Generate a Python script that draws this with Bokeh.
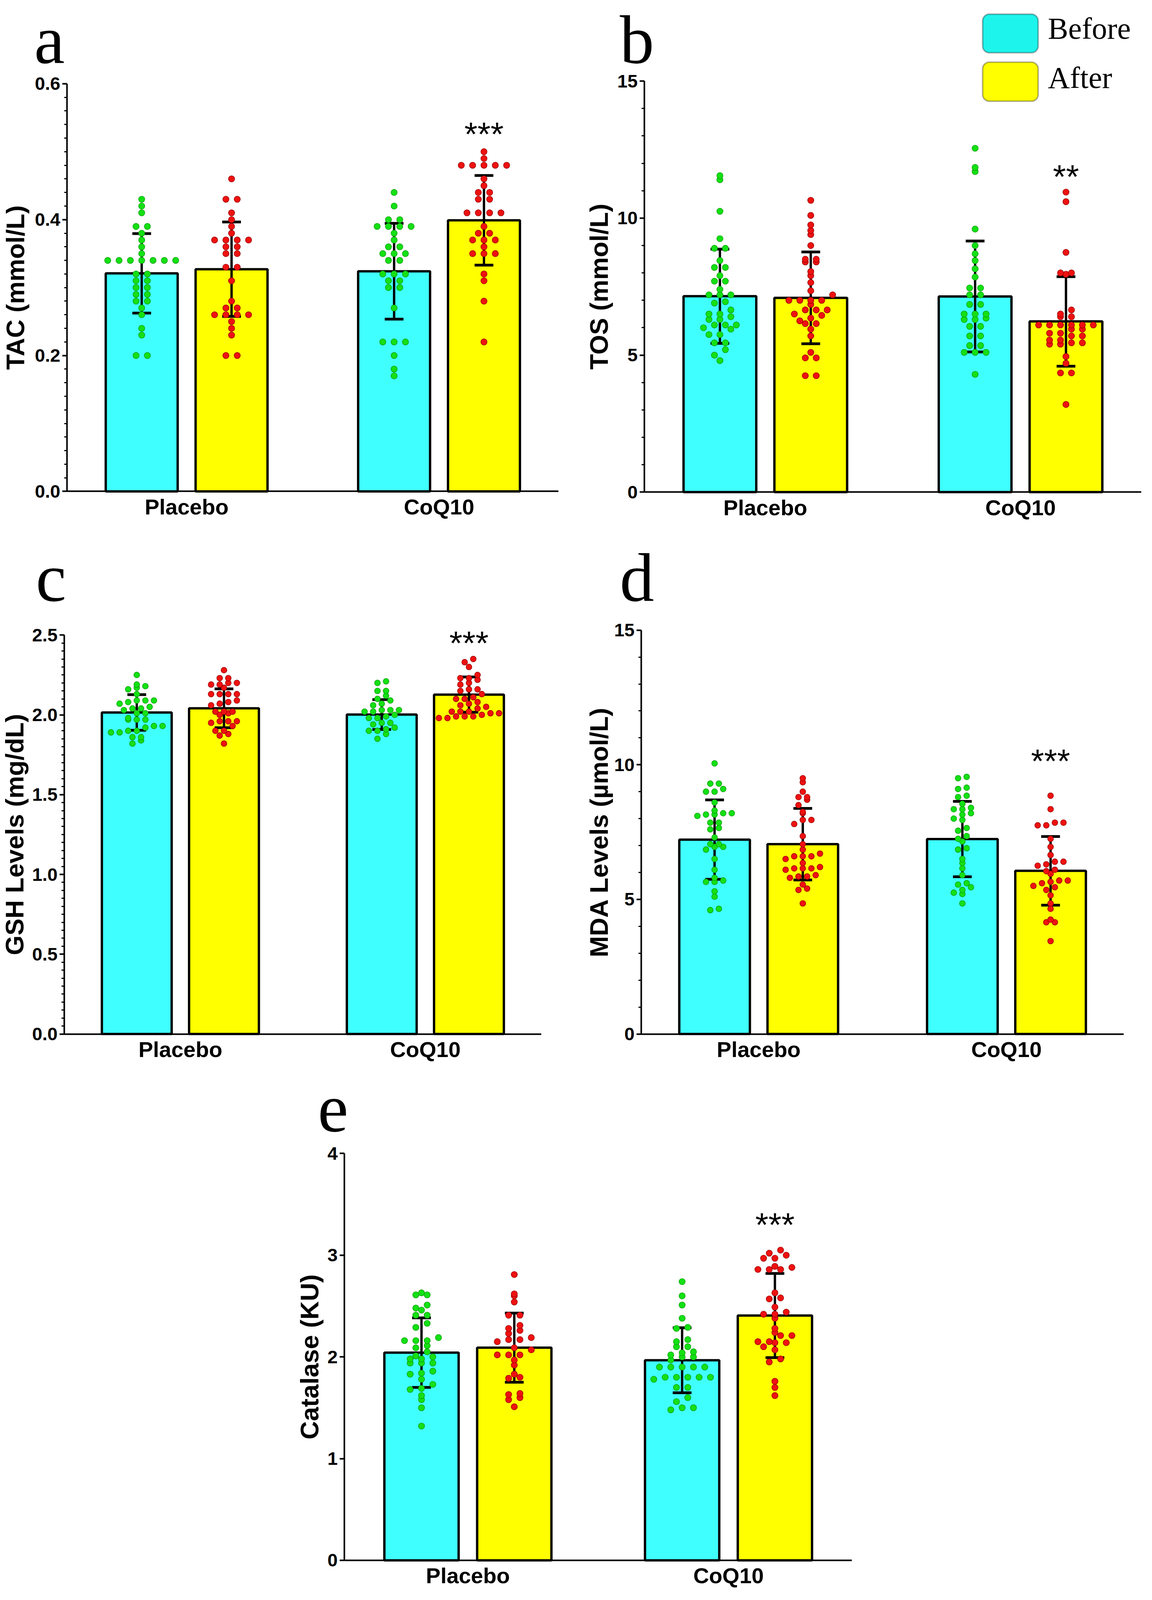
import numpy as np
from bokeh.plotting import figure
from bokeh.models import Range1d, FixedTicker, PrintfTickFormatter, BoxAnnotation
from bokeh.layouts import row, column
from bokeh.core.properties import value
from bokeh.embed import file_html
from bokeh.resources import INLINE

# ---------------- data ----------------
groups = ["Placebo", "CoQ10"]
conditions = ["Before", "After"]

# a: TAC (mmol/L)   order: Placebo-Before, Placebo-After, CoQ10-Before, CoQ10-After
tac_mean = [0.321, 0.327, 0.324, 0.399]
tac_sd = [0.0585, 0.0695, 0.0705, 0.066]
tac_placebo_before = [0.43, 0.42, 0.41, 0.39, 0.39, 0.38, 0.37, 0.36, 0.35, 0.34, 0.34, 0.34, 0.34, 0.34,
                      0.34, 0.34, 0.32, 0.32, 0.31, 0.31, 0.30, 0.30, 0.29, 0.29, 0.28, 0.28, 0.27, 0.26,
                      0.24, 0.23, 0.20, 0.20]
tac_placebo_after = [0.46, 0.43, 0.43, 0.41, 0.40, 0.39, 0.38, 0.37, 0.37, 0.37, 0.37, 0.36, 0.36, 0.35,
                     0.35, 0.33, 0.33, 0.31, 0.28, 0.27, 0.27, 0.26, 0.26, 0.26, 0.26, 0.25, 0.24, 0.23,
                     0.20, 0.20]
tac_coq_before = [0.44, 0.42, 0.40, 0.40, 0.39, 0.39, 0.39, 0.39, 0.38, 0.37, 0.36, 0.36, 0.35, 0.35, 0.35,
                  0.34, 0.34, 0.32, 0.32, 0.32, 0.31, 0.31, 0.30, 0.30, 0.27, 0.22, 0.22, 0.22, 0.20, 0.18,
                  0.17]
tac_coq_after = [0.50, 0.49, 0.48, 0.48, 0.48, 0.48, 0.48, 0.46, 0.45, 0.44, 0.44, 0.43, 0.43, 0.41, 0.41,
                 0.41, 0.41, 0.39, 0.38, 0.38, 0.37, 0.37, 0.37, 0.36, 0.35, 0.35, 0.35, 0.32, 0.31, 0.28,
                 0.22]

# b: TOS (mmol/L)
tos_mean = [7.15, 7.09, 7.14, 6.23]
tos_sd = [1.72, 1.675, 2.025, 1.635]
tos_placebo_before = [11.55, 11.4, 10.25, 9.25, 8.9, 8.9, 8.45, 8.2, 8.2, 7.9, 7.7, 7.7, 7.4, 7.2, 7.2, 7.2,
                      6.95, 6.9, 6.65, 6.5, 6.5, 6.4, 6.3, 6.3, 6.1, 6.1, 6.1, 6.0, 5.95, 5.75, 5.75, 5.45,
                      5.45, 5.2, 5.0, 4.8]
tos_placebo_after = [10.65, 10.1, 9.75, 9.55, 9.4, 9.0, 8.5, 8.5, 8.4, 8.4, 8.05, 7.9, 7.65, 7.35, 7.2, 7.0,
                     7.0, 7.0, 7.0, 6.85, 6.65, 6.65, 6.65, 6.5, 6.45, 6.35, 6.25, 6.15, 6.15, 5.95, 5.7,
                     5.1, 4.9, 4.9, 4.25, 4.25]
tos_coq_before = [12.55, 11.85, 11.7, 9.6, 9.0, 8.7, 8.45, 8.15, 7.85, 7.45, 7.45, 7.2, 7.2, 6.85, 6.85, 6.5,
                  6.5, 6.5, 6.35, 6.3, 6.3, 6.05, 6.05, 5.7, 5.7, 5.35, 5.35, 5.1, 5.1, 5.1, 4.3]
tos_coq_after = [10.95, 10.6, 8.75, 8.0, 8.0, 7.95, 6.65, 6.5, 6.4, 6.4, 6.1, 6.1, 6.1, 6.1, 6.1, 6.1, 5.95,
                 5.95, 5.8, 5.8, 5.7, 5.7, 5.55, 5.55, 5.45, 5.45, 5.4, 5.4, 4.95, 4.7, 4.35, 4.35, 3.2]

# c: GSH Levels (mg/dL)
gsh_mean = [2.015, 2.041, 2.002, 2.127]
gsh_sd = [0.1115, 0.122, 0.0935, 0.1105]
gsh_placebo_before = [2.25, 2.18, 2.17, 2.19, 2.16, 2.13, 2.07, 2.08, 2.09, 2.09, 2.09, 2.05, 2.04, 2.04,
                      2.03, 2.01, 2.01, 1.98, 1.97, 1.97, 1.97, 1.93, 1.92, 1.93, 1.89, 1.89, 1.90, 1.90,
                      1.86, 1.86, 1.84, 1.82]
gsh_placebo_after = [2.28, 2.23, 2.23, 2.20, 2.19, 2.19, 2.20, 2.17, 2.13, 2.13, 2.13, 2.13, 2.09, 2.08,
                     2.07, 2.06, 2.02, 2.02, 2.02, 2.01, 2.00, 1.96, 1.96, 1.96, 1.95, 1.93, 1.90, 1.90,
                     1.88, 1.87, 1.82]
gsh_coq_before = [2.21, 2.20, 2.15, 2.15, 2.12, 2.09, 2.10, 2.07, 2.06, 2.03, 2.03, 2.02, 2.03, 2.02, 2.00,
                  1.98, 1.99, 1.98, 1.95, 1.95, 1.94, 1.92, 1.91, 1.90, 1.90, 1.88, 1.85]
gsh_coq_after = [2.35, 2.33, 2.30, 2.25, 2.23, 2.22, 2.23, 2.20, 2.19, 2.16, 2.16, 2.15, 2.13, 2.11, 2.10,
                 2.10, 2.07, 2.08, 2.06, 2.05, 2.04, 2.02, 2.02, 2.01, 2.01, 2.02, 1.98, 1.99, 1.99, 1.99,
                 1.98, 2.00]

# d: MDA Levels (µmol/L)
mda_mean = [7.22, 7.05, 7.24, 6.06]
mda_sd = [1.475, 1.33, 1.40, 1.275]
mda_placebo_before = [10.05, 9.3, 9.3, 9.1, 9.0, 9.0, 8.6, 8.3, 8.2, 8.2, 8.15, 8.15, 8.1, 7.85, 7.85, 7.65,
                      7.6, 7.3, 7.05, 7.05, 6.95, 6.95, 6.85, 6.5, 6.1, 5.8, 5.7, 5.65, 5.65, 5.3, 5.1,
                      4.65, 4.6]
mda_placebo_after = [9.5, 9.35, 9.0, 8.8, 8.7, 8.8, 8.5, 8.25, 8.2, 7.95, 7.95, 7.8, 7.35, 7.05, 6.85, 6.7,
                     6.6, 6.6, 6.6, 6.5, 6.35, 6.2, 6.15, 6.15, 6.15, 6.1, 5.9, 5.85, 5.85, 5.8, 5.55, 5.4,
                     5.35, 4.85]
mda_coq_before = [9.55, 9.5, 9.15, 9.1, 8.85, 8.8, 8.55, 8.35, 8.35, 8.4, 8.2, 8.15, 8.0, 7.95, 7.65, 7.55,
                  7.35, 7.25, 7.15, 6.9, 6.85, 6.5, 6.35, 6.15, 5.9, 5.6, 5.55, 5.45, 5.35, 5.2, 5.25, 4.85]
mda_coq_after = [8.85, 8.35, 7.85, 7.85, 7.75, 7.75, 7.25, 6.95, 6.65, 6.4, 6.4, 6.3, 6.25, 6.1, 6.05, 5.95,
                 5.65, 5.7, 5.7, 5.6, 5.5, 5.45, 5.35, 5.15, 4.85, 4.65, 4.15, 4.15, 4.25, 3.45]

# e: Catalase (KU)
cat_mean = [2.042, 2.091, 1.967, 2.407]
cat_sd = [0.3415, 0.34, 0.32, 0.414]
cat_placebo_before = [2.63, 2.61, 2.61, 2.51, 2.48, 2.46, 2.41, 2.41, 2.33, 2.29, 2.19, 2.16, 2.16, 2.16,
                      2.11, 2.09, 2.05, 2.01, 1.98, 1.98, 2.00, 1.94, 1.94, 1.94, 1.86, 1.83, 1.84, 1.78,
                      1.73, 1.68, 1.69, 1.62, 1.58, 1.50, 1.32]
cat_placebo_after = [2.81, 2.62, 2.60, 2.54, 2.41, 2.41, 2.28, 2.31, 2.26, 2.23, 2.19, 2.17, 2.15, 2.17,
                     2.09, 2.07, 2.02, 2.02, 2.02, 1.97, 1.92, 1.83, 1.80, 1.79, 1.64, 1.63, 1.60, 1.58,
                     1.51]
cat_coq_before = [2.74, 2.60, 2.51, 2.38, 2.29, 2.28, 2.17, 2.15, 2.10, 2.10, 2.05, 2.02, 2.04, 2.00, 2.00,
                  1.97, 1.90, 1.90, 1.90, 1.90, 1.90, 1.80, 1.80, 1.80, 1.80, 1.80, 1.78, 1.70, 1.70, 1.60,
                  1.56, 1.50, 1.50, 1.48]
cat_coq_after = [3.05, 3.02, 3.00, 2.97, 2.97, 2.89, 2.88, 2.86, 2.86, 2.86, 2.63, 2.57, 2.58, 2.49, 2.42,
                 2.42, 2.44, 2.38, 2.28, 2.24, 2.21, 2.21, 2.15, 2.15, 2.14, 2.14, 2.10, 2.07, 1.98, 1.95,
                 1.76, 1.70, 1.62]

# significance marks (CoQ10 after vs before) and the value level of their baseline
sig_text = ["***", "**", "***", "***", "***"]
sig_level = [0.509, 11.1, 2.38, 9.72, 3.19]

# ---------------- style / layout ----------------
X0, X1 = 0.526, 2.473
BAR_W = 0.285
OFFS = {"Before": -0.178, "After": 0.178}
BAR_FILL = {"Before": "#40FFFF", "After": "#FFFF00"}
LEG_FILL = {"Before": "#1DF5EC", "After": "#FFFF00"}
DOT_FILL = {"Before": "#14E014", "After": "#EE1111"}
DOT_LINE = {"Before": "#0C960C", "After": "#900000"}
SANS = "Liberation Sans"
SERIF = "Liberation Serif"
BASE_FIX = 0.34   # em: lift of 'alphabetic' texts so that the glyph baseline sits on the target
LETTER_PX = 176
SY = 0.968        # vertical compression so that the whole page fits the visible window


def sy(v):
    return 8 + (v - 8) * SY


# reference page geometry: figure box (left, top, right, bottom), plot area (left, top, width, height)
panels = [
    dict(letter="a", ylabel="TAC (mmol/L)", ymax=0.6, yticks=[0, 0.2, 0.4, 0.6], ystep_minor=0.02, fmt="%.1f",
         mean=tac_mean, sd=tac_sd,
         dots=[tac_placebo_before, tac_placebo_after, tac_coq_before, tac_coq_after],
         fig=(8, 8, 1480, 1410), frame=(179, 229, 1258, 1078), dx=29, row_h=0.01, dot=16,
         letter_pos=(95, 174), ylabel_x=47),
    dict(letter="b", ylabel="TOS (mmol/L)", ymax=15, yticks=[0, 5, 10, 15], ystep_minor=1, fmt="%d",
         mean=tos_mean, sd=tos_sd,
         dots=[tos_placebo_before, tos_placebo_after, tos_coq_before, tos_coq_after],
         fig=(1480, 8, 2934, 1410), frame=(1657, 222, 1272, 1087), dx=28, row_h=0.25, dot=16,
         letter_pos=(1594, 174), ylabel_x=1541),
    dict(letter="c", ylabel="GSH Levels (mg/dL)", ymax=2.5, yticks=[0, 0.5, 1.0, 1.5, 2.0, 2.5],
         ystep_minor=0.05, fmt="%.1f", mean=gsh_mean, sd=gsh_sd,
         dots=[gsh_placebo_before, gsh_placebo_after, gsh_coq_before, gsh_coq_after],
         fig=(8, 1410, 1480, 2834), frame=(172, 1687, 1221, 1055), dx=22, row_h=0.042, dot=15,
         letter_pos=(99, 1597), ylabel_x=45),
    dict(letter="d", ylabel="MDA Levels (µmol/L)", ymax=15, yticks=[0, 5, 10, 15], ystep_minor=1, fmt="%d",
         mean=mda_mean, sd=mda_sd,
         dots=[mda_placebo_before, mda_placebo_after, mda_coq_before, mda_coq_after],
         fig=(1480, 1410, 2934, 2834), frame=(1649, 1674, 1235, 1068), dx=22, row_h=0.25, dot=15,
         letter_pos=(1594, 1597), ylabel_x=1541),
    dict(letter="e", ylabel="Catalase (KU)", ymax=4, yticks=[0, 1, 2, 3, 4], ystep_minor=None, fmt="%d",
         mean=cat_mean, sd=cat_sd,
         dots=[cat_placebo_before, cat_placebo_after, cat_coq_before, cat_coq_after],
         fig=(8, 2834, 2200, 4226), frame=(889, 3058, 1299, 1076), dx=29, row_h=0.067, dot=16,
         letter_pos=(821, 3001), ylabel_x=800),
]


def swarm(vals, center, row_h, dx):
    rows = {}
    for v in vals:
        rows.setdefault(int(np.floor(v / row_h + 1e-9)), []).append(v)
    xs, ys = [], []
    for k in sorted(rows):
        vs = sorted(rows[k])
        n = len(vs)
        for i, v in enumerate(vs):
            xs.append(center + (i - (n - 1) / 2.0) * dx)
            ys.append(v)
    return xs, ys


def make_panel(idx, s):
    fl, ft0, fw, fh0 = s["frame"]
    gl, gt0, gr, gb0 = s["fig"]
    gt = int(round(sy(gt0)))
    gb = int(round(sy(gb0)))
    ft = sy(ft0)
    fh = fh0 * SY
    ymax = s["ymax"]
    ppx = fw / (X1 - X0)
    ppy = fh / ymax
    xr0 = X0 - (fl - gl) / ppx
    xr1 = X1 + (gr - fl - fw) / ppx
    yr0 = -(gb - ft - fh) / ppy
    yr1 = ymax + (ft - gt) / ppy

    def to_data(px, py_ref, lift=0.0):
        return xr0 + (px - gl) / ppx, yr1 - (sy(py_ref) - lift - gt) / ppy

    p = figure(width=gr - gl, height=gb - gt,
               x_range=Range1d(xr0, xr1), y_range=Range1d(yr0, yr1),
               output_backend="svg", toolbar_location=None)
    p.min_border_left = 0
    p.min_border_right = 0
    p.min_border_top = 0
    p.min_border_bottom = 0
    p.grid.visible = False
    p.outline_line_color = None
    p.background_fill_color = "white"
    p.border_fill_color = "white"

    # y axis (library axis, pinned to the left edge of the data area)
    minor = []
    if s["ystep_minor"]:
        minor = list(np.round(np.arange(0, ymax + 1e-9, s["ystep_minor"]), 6))
    ya = p.yaxis[0]
    ya.fixed_location = X0
    ya.bounds = (0, ymax)
    ya.ticker = FixedTicker(ticks=s["yticks"], minor_ticks=minor)
    ya.formatter = PrintfTickFormatter(format=s["fmt"])
    ya.major_label_text_font = SANS
    ya.major_label_text_font_style = "bold"
    ya.major_label_text_font_size = "47px"
    ya.major_label_text_color = "black"
    ya.major_label_standoff = 5
    ya.axis_line_width = 4
    ya.axis_line_color = "black"
    ya.major_tick_line_width = 4
    ya.major_tick_line_color = "black"
    ya.major_tick_out = 12
    ya.major_tick_in = 0
    ya.minor_tick_line_width = 3
    ya.minor_tick_line_color = "black"
    ya.minor_tick_out = 7
    ya.minor_tick_in = 0

    # x axis (categories)
    xa = p.xaxis[0]
    xa.fixed_location = 0
    xa.bounds = (X0, X1)
    xa.ticker = FixedTicker(ticks=[1, 2], minor_ticks=[])
    xa.major_label_overrides = {i + 1: g for i, g in enumerate(groups)}
    xa.major_label_text_font = SANS
    xa.major_label_text_font_style = "bold"
    xa.major_label_text_font_size = "56px"
    xa.major_label_text_color = "black"
    xa.major_label_standoff = 8
    xa.axis_line_width = 4
    xa.axis_line_color = "black"
    xa.major_tick_line_color = None
    xa.major_tick_out = 0
    xa.major_tick_in = 0
    xa.minor_tick_line_color = None
    xa.minor_tick_out = 0

    # y axis title (centred on the plot area)
    lx = xr0 + (s["ylabel_x"] - gl) / ppx
    ly = ymax / 2.0
    p.text(x=[lx], y=[ly], text=[s["ylabel"]], angle=np.pi / 2, text_align="center",
           text_baseline="middle", text_font=value(SANS), text_font_style="bold",
           text_font_size="65px", text_color="black")

    # bars
    xs, conds = [], []
    for gi, g in enumerate(groups):
        for c in conditions:
            xs.append(gi + 1 + OFFS[c])
            conds.append(c)
    mean = np.array(s["mean"])
    sd = np.array(s["sd"])
    p.vbar(x=xs, width=BAR_W, top=list(mean), bottom=0,
           fill_color=[BAR_FILL[c] for c in conds], line_color="black", line_width=6)

    # error bars (mean ± SD)
    hi = list(mean + sd)
    lo = list(mean - sd)
    cap = 24 / ppx
    p.segment(x0=xs, y0=lo, x1=xs, y1=hi, line_color="black", line_width=6)
    p.segment(x0=[x - cap for x in xs], y0=hi, x1=[x + cap for x in xs], y1=hi,
              line_color="black", line_width=7)
    p.segment(x0=[x - cap for x in xs], y0=lo, x1=[x + cap for x in xs], y1=lo,
              line_color="black", line_width=7)

    # individual points
    for x, c, vals in zip(xs, conds, s["dots"]):
        dxs, dys = swarm(vals, x, s["row_h"], s["dx"] / ppx)
        p.scatter(x=dxs, y=dys, size=s["dot"], marker="circle",
                  fill_color=DOT_FILL[c], line_color=DOT_LINE[c], line_width=1.2)

    # significance
    p.text(x=[xs[3]], y=[sig_level[idx] + BASE_FIX * 86 / ppy], text=[sig_text[idx]],
           text_font=value(SANS), text_font_size="86px", text_align="center",
           text_baseline="alphabetic", text_color="black")

    # panel letter
    tx, ty = to_data(s["letter_pos"][0], s["letter_pos"][1], BASE_FIX * LETTER_PX)
    p.text(x=[tx], y=[ty], text=[s["letter"]], text_font=value(SERIF),
           text_font_size="%dpx" % LETTER_PX,
           text_align="left", text_baseline="alphabetic", text_color="black")

    if s["letter"] == "b":
        for (top, bot, txt_base, name) in [(45, 147, 110, "Before"), (172, 275, 240, "After")]:
            l, t = to_data(2523, top)
            r, b = to_data(2665, bot)
            p.add_layout(BoxAnnotation(left=l, right=r, top=t, bottom=b,
                                       fill_color=LEG_FILL[name], fill_alpha=1.0,
                                       line_color="black", line_width=4, border_radius=17))
            nx, ny = to_data(2690, txt_base, BASE_FIX * 78)
            p.text(x=[nx], y=[ny], text=[name], text_font=value(SERIF), text_font_size="78px",
                   text_align="left", text_baseline="alphabetic", text_color="black")
    return p


figs = [make_panel(i, s) for i, s in enumerate(panels)]
layout = column(row(figs[0], figs[1]), row(figs[2], figs[3]), row(figs[4]))

open("out.html", "w").write(file_html(layout, INLINE))
